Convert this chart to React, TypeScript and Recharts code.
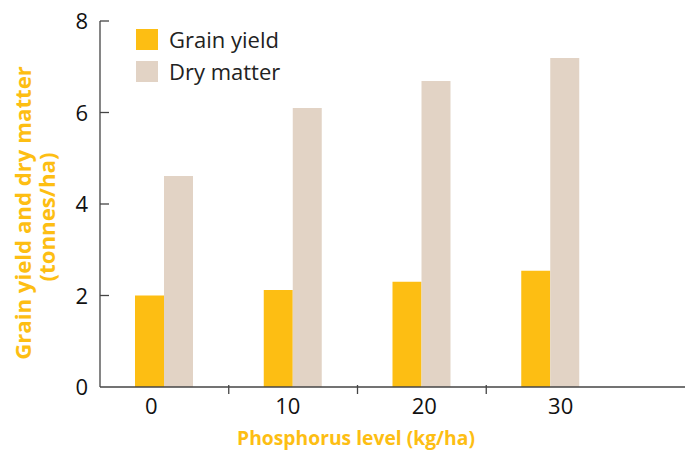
import React from "react";
import { BarChart, Bar, XAxis, YAxis, Legend } from "recharts";

const levels = ["0", "10", "20", "30"];
const grainYield = [2.0, 2.12, 2.3, 2.54];
const dryMatter = [4.61, 6.1, 6.69, 7.19];
const yTicks = [0, 2, 4, 6, 8];

const data = levels.map((name, i) => ({
  name,
  grain: grainYield[i],
  dry: dryMatter[i],
}));

const YELLOW = "#FDBE13";
const BEIGE = "#E2D3C5";
const AXIS = "#444";
const FONT = "'Open Sans', Lato, sans-serif";

const YTick = (props: any) => {
  const { x, y, payload } = props;
  return (
    <g>
      {payload.value !== 0 && (
        <line x1={x + 10} x2={x + 19} y1={y} y2={y} stroke={AXIS} strokeWidth={1.3} />
      )}
      <text x={x - 2} y={y} dy={8} textAnchor="end" fontSize={22} fill="#111" fontFamily={FONT}>
        {payload.value}
      </text>
    </g>
  );
};

const XTick = (props: any) => {
  const { x, y, payload, index } = props;
  const band = 128.75;
  // labels sit on a slightly wider spacing than the bars in the original
  const shift = -1.5 + (index - 1.5) * 7.7;
  return (
    <g>
      {index > 0 && (
        <line
          x1={x - band / 2}
          x2={x - band / 2}
          y1={y - 1}
          y2={y - 10}
          stroke={AXIS}
          strokeWidth={1.3}
        />
      )}
      <text x={x + shift} y={y + 19} textAnchor="middle" fontSize={22} fill="#111" fontFamily={FONT}>
        {payload.value}
      </text>
    </g>
  );
};

const YLabel = () => (
  <g fontFamily={FONT} fontWeight={700} fontSize={22.2} fill={YELLOW} textAnchor="middle">
    <text transform="translate(31,213) rotate(-90)">Grain yield and dry matter</text>
    <text transform="translate(55,217) rotate(-90)">(tonnes/ha)</text>
  </g>
);

const XLabel = () => (
  <text
    x={356}
    y={445}
    textAnchor="middle"
    fontFamily={FONT}
    fontWeight={700}
    fontSize={19.3}
    fill={YELLOW}
  >
    Phosphorus level (kg/ha)
  </text>
);

const LegendBox = () => (
  <div style={{ fontFamily: FONT, fontSize: 22, color: "#222" }}>
    {[
      { label: "Grain yield", color: YELLOW },
      { label: "Dry matter", color: BEIGE },
    ].map((it) => (
      <div key={it.label} style={{ display: "flex", alignItems: "center", height: 32 }}>
        <span style={{ width: 22, height: 21, background: it.color, marginRight: 11 }} />
        <span>{it.label}</span>
      </div>
    ))}
  </div>
);

export default function App() {
  return (
    <div style={{ position: "absolute", left: 0, top: 0, background: "#fff" }}>
      <BarChart
        width={685}
        height={450}
        data={data}
        margin={{ top: 21, right: 0, left: 0, bottom: 0 }}
        barCategoryGap={35}
        barGap={0}
      >
        <XAxis
          dataKey="name"
          height={63}
          padding={{ left: 0, right: 70 }}
          axisLine={{ stroke: AXIS, strokeWidth: 1.3 }}
          tickLine={false}
          tick={<XTick />}
          interval={0}
          label={<XLabel />}
        />
        <YAxis
          width={100}
          domain={[0, 8]}
          ticks={yTicks}
          axisLine={{ stroke: AXIS, strokeWidth: 1.3 }}
          tickLine={false}
          tickSize={0}
          tickMargin={10}
          tick={<YTick />}
          label={<YLabel />}
        />
        <Legend
          layout="horizontal"
          verticalAlign="middle"
          align="center"
          wrapperStyle={{ position: "absolute", left: 136, top: 23, width: 220 }}
          content={<LegendBox />}
        />
        <Bar dataKey="grain" name="Grain yield" fill={YELLOW} isAnimationActive={false} />
        <Bar dataKey="dry" name="Dry matter" fill={BEIGE} isAnimationActive={false} />
      </BarChart>
    </div>
  );
}
